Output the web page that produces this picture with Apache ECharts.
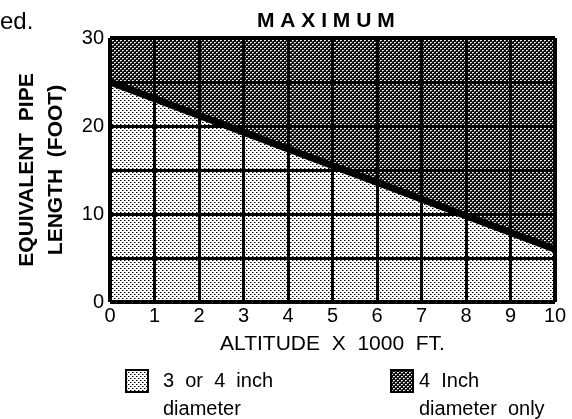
<!DOCTYPE html>
<html>
<head>
<meta charset="utf-8">
<script src="https://cdn.jsdelivr.net/npm/echarts@6/dist/echarts.min.js"></script>
<style>
  html, body { margin: 0; padding: 0; background: #fff; }
  #main { width: 572px; height: 419px; }
</style>
</head>
<body>
<div id="main"></div>
<script>
// 数据
const altitude = [0, 10];            // x 1000 ft
const boundaryLength = [25, 6];      // 分界线 (foot)
const maxLength = [30, 30];          // 图表上限
const xTicks = [0, 1, 2, 3, 4, 5, 6, 7, 8, 9, 10];
const yGridLines = [0, 5, 10, 15, 20, 25, 30];
const yTickLabels = [0, 10, 20, 30];

const FONT = '"Liberation Sans", Arial, Helvetica, sans-serif';

// 网点图案
function makePattern(bg, dots) {
  const c = document.createElement('canvas');
  c.width = 4; c.height = 4;
  const ctx = c.getContext('2d');
  ctx.fillStyle = bg; ctx.fillRect(0, 0, 4, 4);
  dots.forEach(d => { ctx.fillStyle = d[2]; ctx.fillRect(d[0], d[1], 1, 1); });
  return { image: c, repeat: 'repeat' };
}
const lightFill = makePattern('#ffffff', [[0, 0, '#000'], [2, 2, '#000'], [1, 0, '#888'], [3, 2, '#888']]);
const darkFill = makePattern('#0d0d0d', [
  [0, 0, '#fff'], [2, 2, '#fff'], [1, 0, '#ccc'], [3, 2, '#ccc'], [0, 1, '#666'], [2, 3, '#666']
]);

const lowerData = altitude.map((x, i) => [x, boundaryLength[i]]);
const upperData = altitude.map((x, i) => [x, maxLength[i]]);

const gridLineData = [
  ...xTicks.map(x => ({ xAxis: x, lineStyle: { width: (x === 0 || x === 10) ? 4 : 3 } })),
  ...yGridLines.map(y => ({ yAxis: y, lineStyle: { width: (y === 0 || y === 30) ? 4 : 3 } }))
];

const legendText = { fontFamily: FONT, fontSize: 20, color: '#000', lineHeight: 28 };

const chart = echarts.init(document.getElementById('main'));
const option = {
  animation: false,
  backgroundColor: '#fff',
  title: {
    text: 'M A X I M U M',
    left: 257,
    top: 11,
    padding: 0,
    textStyle: { fontFamily: FONT, fontSize: 21, fontWeight: 'bold', color: '#000' }
  },
  graphic: [{
    type: 'text', left: 0, top: 10,
    style: { text: 'ed.', font: '24px ' + FONT, fill: '#000' }
  }],
  legend: [{
    left: 125, top: 339, padding: 0,
    icon: 'rect', itemWidth: 22, itemHeight: 22,
    data: [{ name: '3 or 4 inch diameter', itemStyle: { color: lightFill, borderColor: '#000', borderWidth: 2 } }],
    formatter: () => '\n3  or  4  inch\ndiameter',
    textStyle: Object.assign({ padding: [0, 0, 0, 10] }, legendText)
  }, {
    left: 390, top: 339, padding: 0,
    icon: 'rect', itemWidth: 22, itemHeight: 22,
    data: [{ name: '4 inch diameter only', itemStyle: { color: darkFill, borderColor: '#000', borderWidth: 2 } }],
    formatter: () => '\n4  Inch\ndiameter  only',
    textStyle: Object.assign({ padding: [0, 0, 0, 1] }, legendText)
  }],
  grid: { left: 110, right: 17, top: 38, bottom: 117 },
  xAxis: {
    type: 'value', min: 0, max: 10, interval: 1,
    name: 'ALTITUDE  X  1000  FT.',
    nameLocation: 'middle', nameGap: 32,
    nameTextStyle: { fontFamily: FONT, fontSize: 21, color: '#000' },
    axisLine: { show: false },
    axisTick: { show: false },
    splitLine: { show: false },
    axisLabel: { fontFamily: FONT, fontSize: 20, color: '#000', margin: 4 }
  },
  yAxis: {
    type: 'value', min: 0, max: 30, interval: 5,
    name: 'EQUIVALENT  PIPE\nLENGTH  (FOOT)',
    nameLocation: 'middle', nameRotate: 90, nameGap: 39,
    nameTextStyle: { fontFamily: FONT, fontSize: 21, fontWeight: 'bold', color: '#000', lineHeight: 29 },
    axisLine: { show: false },
    axisTick: { show: false },
    splitLine: { show: false },
    axisLabel: {
      fontFamily: FONT, fontSize: 20, color: '#000', margin: 6,
      formatter: v => (yTickLabels.includes(v) ? String(v) : '')
    }
  },
  series: [{
    name: '4 inch diameter only',
    type: 'line',
    data: upperData,
    symbol: 'none',
    lineStyle: { width: 0 },
    areaStyle: { color: darkFill, opacity: 1 },
    z: 1,
    markLine: {
      silent: true,
      symbol: ['none', 'none'],
      label: { show: false },
      lineStyle: { color: '#000', type: 'solid', width: 3 },
      data: gridLineData
    }
  }, {
    name: '3 or 4 inch diameter',
    type: 'line',
    data: lowerData,
    symbol: 'none',
    lineStyle: { width: 0 },
    areaStyle: { color: lightFill, opacity: 1 },
    z: 2
  }, {
    name: 'boundary',
    type: 'line',
    data: lowerData,
    symbol: 'none',
    lineStyle: { color: '#000', width: 7 },
    z: 6
  }]
};
chart.setOption(option);
</script>
</body>
</html>
